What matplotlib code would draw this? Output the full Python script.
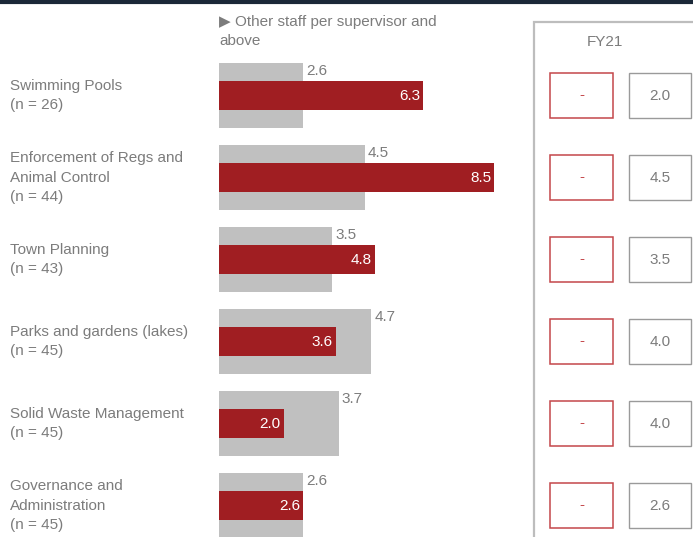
import matplotlib.pyplot as plt
from matplotlib.patches import Rectangle

plt.rcParams['font.family'] = ['Liberation Sans', 'DejaVu Sans']

# Data from the image
categories = ["Swimming Pools\n(n = 26)",
              "Enforcement of Regs and\nAnimal Control\n(n = 44)",
              "Town Planning\n(n = 43)",
              "Parks and gardens (lakes)\n(n = 45)",
              "Solid Waste Management\n(n = 45)",
              "Governance and\nAdministration\n(n = 45)"]
benchmark = [2.6, 4.5, 3.5, 4.7, 3.7, 2.6]   # grey bars
council = [6.3, 8.5, 4.8, 3.6, 2.0, 2.6]     # red bars
fy21_red = ["-", "-", "-", "-", "-", "-"]
fy21_grey = ["2.0", "4.5", "3.5", "4.0", "4.0", "2.6"]

RED = "#a01e22"
GREY = "#c0c0c0"
TXT = "#7c7c7c"
FS = 11

W, H = 693, 537
fig = plt.figure(figsize=(W / 100, H / 100), dpi=100)

# row geometry (pixels)
row0, pitch = 95.5, 82.0
ylo = (H - row0) / pitch
yhi = -row0 / pitch

# bar axes
px_per_unit = 32.4
x0 = 219
ax = fig.add_axes([x0 / W, 0, 1 - x0 / W, 1])
ax.set_xlim(0, (W - x0) / px_per_unit)
ax.set_ylim(ylo, yhi)
ax.axis("off")

rows = list(range(len(categories)))
ax.barh(rows, benchmark, height=65 / pitch, color=GREY, align="center")
ax.barh(rows, council, height=29 / pitch, color=RED, align="center")
for i in rows:
    ax.text(benchmark[i] + 3 / px_per_unit, i - 25 / pitch, f"{benchmark[i]:.1f}",
            color=TXT, fontsize=FS, va="center", ha="left")
    ax.text(council[i] - 3 / px_per_unit, i, f"{council[i]:.1f}",
            color="white", fontsize=FS, va="center", ha="right")

# overlay axes: x in pixels, y in row units
ov = fig.add_axes([0, 0, 1, 1], zorder=-1)
ov.set_xlim(0, W)
ov.set_ylim(ylo, yhi)
ov.axis("off")
ov.patch.set_alpha(0)

for i, lab in enumerate(categories):
    ov.text(10, i, lab, color=TXT, fontsize=FS, va="center", ha="left",
            linespacing=1.5)

# header
ov.text(219, (31.5 - row0) / pitch, "\u25b6 Other staff per supervisor and\nabove",
        color=TXT, fontsize=FS, va="center", ha="left", linespacing=1.5)

# top rule
ov.plot([0, W], [(1.5 - row0) / pitch] * 2, color="#1b2838", lw=3,
        solid_capstyle="butt", clip_on=False)

# right panel frame
ov.add_patch(Rectangle((534, ylo + 1), 200, (22 - row0) / pitch - ylo - 1,
                       fill=False, ec="#bdbdbd", lw=1.6, clip_on=True))
ov.text(605, (42 - row0) / pitch, "FY21", color=TXT, fontsize=FS,
        ha="center", va="center")

bh = 45 / pitch
for i in rows:
    ov.add_patch(Rectangle((550, i - bh / 2), 63, bh, fill=False,
                           ec="#c4474a", lw=1.1))
    ov.text(581.5, i, fy21_red[i], color="#c4474a", fontsize=FS,
            ha="center", va="center")
    ov.add_patch(Rectangle((629, i - bh / 2), 62, bh, fill=False,
                           ec="#9a9a9a", lw=1.0))
    ov.text(660, i, fy21_grey[i], color=TXT, fontsize=FS,
            ha="center", va="center")

fig.savefig("out.png", dpi=100)
